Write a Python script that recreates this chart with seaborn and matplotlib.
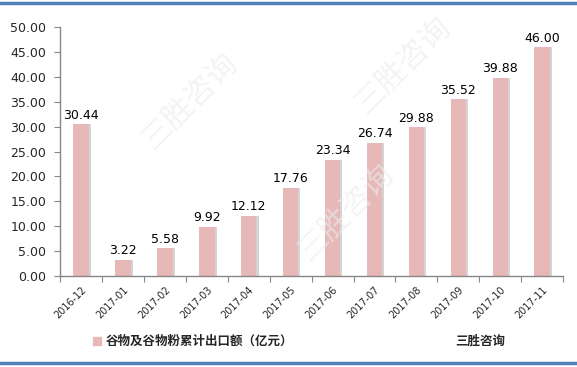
import matplotlib
matplotlib.use("Agg")
import matplotlib.pyplot as plt
import matplotlib.patheffects as pe
from matplotlib.lines import Line2D
import seaborn as sns
import pandas as pd

categories = ["2016-12", "2017-01", "2017-02", "2017-03", "2017-04", "2017-05",
              "2017-06", "2017-07", "2017-08", "2017-09", "2017-10", "2017-11"]
values = [30.44, 3.22, 5.58, 9.92, 12.12, 17.76, 23.34, 26.74, 29.88, 35.52, 39.88, 46.00]
series_name = "谷物及谷物粉累计出口额（亿元）"
source_text = "三胜咨询"
yticks = [0, 5, 10, 15, 20, 25, 30, 35, 40, 45, 50]

sns.set_style("white")
plt.rcParams['font.family'] = ['DejaVu Sans', 'Noto Sans CJK SC']

df = pd.DataFrame({"month": categories, "value": values})

fig = plt.figure(figsize=(5.77, 3.67), dpi=100)
ax = fig.add_axes([0.104, 0.248, 0.872, 0.678])

bar_color = "#E6B8B7"
sns.barplot(data=df, x="month", y="value", color=bar_color, width=0.37,
            saturation=1, ax=ax)
for p in ax.patches:
    p.set_path_effects([pe.SimplePatchShadow(offset=(1.5, 0), shadow_rgbFace="#B8B8B8", alpha=0.6),
                        pe.Normal()])
    p.set_edgecolor("none")

for i, v in enumerate(values):
    ax.text(i, v + 0.5, f"{v:.2f}", ha="center", va="bottom", fontsize=9, color="#000000")

ax.set_xlim(-0.5, len(categories) - 0.5)
ax.set_ylim(0, 50)
ax.set_yticks(yticks)
ax.set_yticklabels([f"{t:.2f}" for t in yticks], fontsize=9)
ax.set_xlabel("")
ax.set_ylabel("")

ax.set_xticks([i - 0.5 for i in range(len(categories) + 1)])
ax.set_xticklabels([])
ax.set_xticks(range(len(categories)), minor=True)
ax.set_xticklabels(categories, minor=True, rotation=45, ha="right",
                   rotation_mode="anchor", fontsize=7)
ax.tick_params(axis="x", which="minor", length=0, pad=6)
ax.tick_params(axis="x", which="major", length=4, color="#868686", direction="out")
ax.tick_params(axis="y", length=4, color="#868686", direction="out", pad=6)
ax.xaxis.set_ticks_position("bottom")
ax.yaxis.set_ticks_position("left")

for s in ["top", "right"]:
    ax.spines[s].set_visible(False)
for s in ["left", "bottom"]:
    ax.spines[s].set_color("#868686")
    ax.spines[s].set_linewidth(1)

# watermark
for (x, y) in [(0.33, 0.72), (0.7, 0.82), (0.6, 0.42)]:
    fig.text(x, y, "三胜咨询", rotation=45, fontsize=22, color="#ECECEC",
             family=['Noto Sans CJK SC'], ha="center", va="center", zorder=0, alpha=0.6)

# legend
fig.patches.append(matplotlib.patches.Rectangle((93 / 577, 1 - 345 / 367), 8 / 577, 8 / 367,
                                               transform=fig.transFigure, color=bar_color))
fig.text(106 / 577, 1 - 341 / 367, series_name, fontsize=9, fontweight="bold",
         family=['Noto Sans CJK SC', 'DejaVu Sans'], va="center", ha="left")
fig.text(455 / 577, 1 - 341 / 367, source_text, fontsize=9, fontweight="bold",
         family=['Noto Sans CJK SC', 'DejaVu Sans'], va="center", ha="left")

# borders
fig.add_artist(Line2D([0, 1], [1 - 3 / 367, 1 - 3 / 367], color="#4F81BD", lw=2.5,
                      transform=fig.transFigure))
fig.add_artist(Line2D([0, 1], [1 - 363 / 367, 1 - 363 / 367], color="#4F81BD", lw=2.5,
                      transform=fig.transFigure))

fig.savefig("out.png", dpi=100)
